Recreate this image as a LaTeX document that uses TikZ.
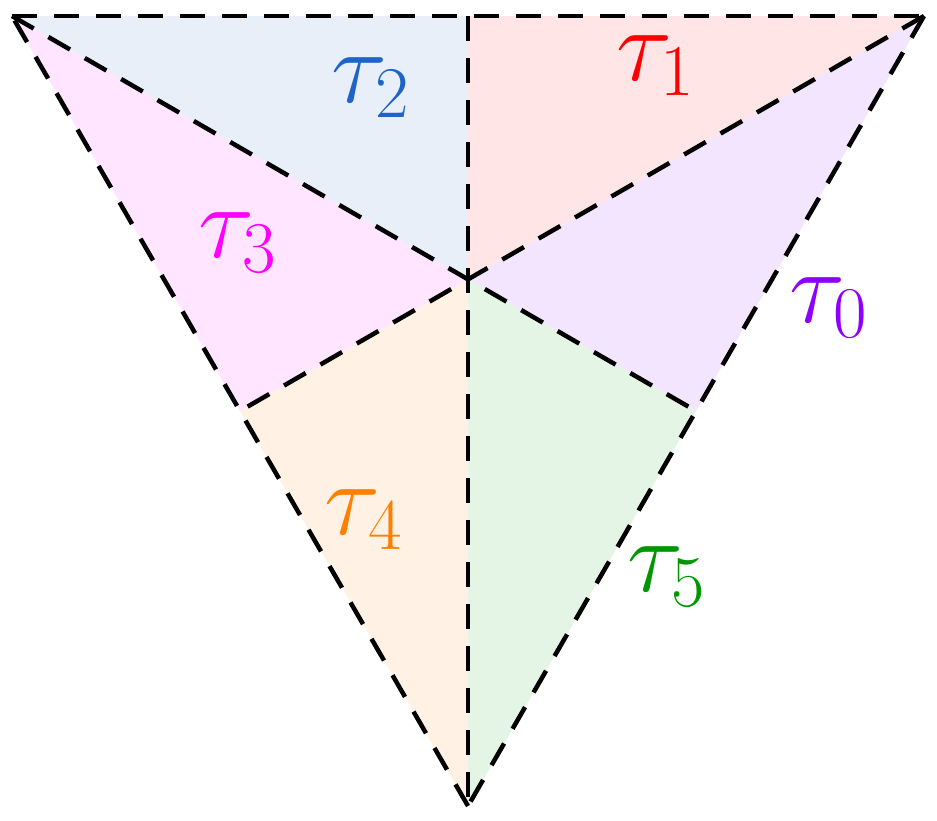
\RequirePackage{fix-cm}
\documentclass[tikz,border=0pt]{standalone}
\definecolor{cblue}{RGB}{30,100,200}
\definecolor{cred}{RGB}{255,0,0}
\definecolor{cviolet}{RGB}{140,0,255}
\definecolor{cgreen}{RGB}{0,150,0}
\definecolor{corange}{RGB}{255,128,0}
\definecolor{cmagenta}{RGB}{255,0,255}
\tikzset{
  edge/.style={draw=black, line width=4.5pt, dash pattern=on 25pt off 17pt},
  lab/.style={inner sep=0pt, anchor=base west, font=\fontsize{104}{124}\selectfont},
}
\begin{document}
\begin{tikzpicture}[x=1pt,y=-1pt]
\useasboundingbox (0,0) rectangle (937,820);
\coordinate (A) at (12,16);
\coordinate (B) at (924,16);
\coordinate (C) at (468,806);
\coordinate (O) at (468,279.3);
\coordinate (MT) at (468,16);
\coordinate (ML) at (240,411);
\coordinate (MR) at (696,411);
% fills
\fill[cblue!10] (A) -- (MT) -- (O) -- cycle;
\fill[cred!10] (MT) -- (B) -- (O) -- cycle;
\fill[cviolet!10] (B) -- (MR) -- (O) -- cycle;
\fill[cgreen!10] (MR) -- (C) -- (O) -- cycle;
\fill[corange!10] (C) -- (ML) -- (O) -- cycle;
\fill[cmagenta!10] (ML) -- (A) -- (O) -- cycle;
% lines
\draw[edge] (A) -- (B);
\draw[edge] (B) -- (C);
\draw[edge] (C) -- (A);
\draw[edge] (MT) -- (C);
\draw[edge] (A) -- (MR);
\draw[edge] (B) -- (ML);
% labels
\node[lab, text=cblue] (t2) at (331,102) {$\tau_2$};
\node[lab, text=cred] (t1) at (616,80) {$\tau_1$};
\node[lab, text=cviolet] (t0) at (789,322) {$\tau_0$};
\node[lab, text=cmagenta] (t3) at (198,257) {$\tau_3$};
\node[lab, text=corange] (t4) at (324,534) {$\tau_4$};
\node[lab, text=cgreen] (t5) at (627,591) {$\tau_5$};
\end{tikzpicture}
\end{document}
